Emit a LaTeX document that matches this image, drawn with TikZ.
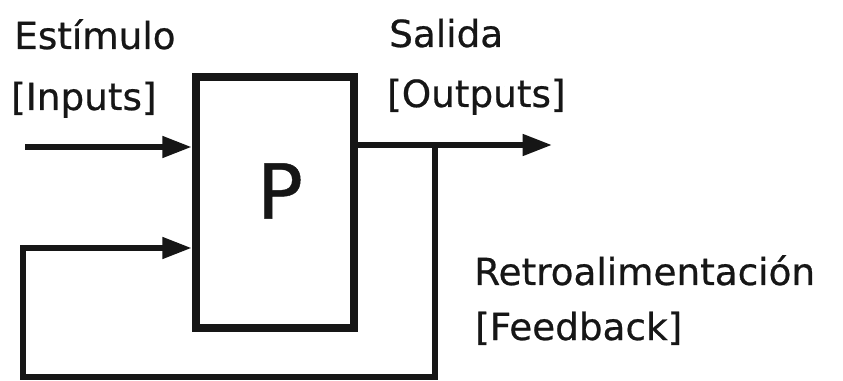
\documentclass[tikz,border=0pt]{standalone}
\usepackage{fontspec}
\setmainfont{DejaVu Sans}
\newfontfamily\lblfont{DejaVu Sans}[FakeBold=0.6]
\usetikzlibrary{arrows.meta}
\definecolor{ink}{HTML}{161616}
\tikzset{
  lbl/.style={anchor=base west, inner sep=0pt, text=ink, font=\lblfont\fontsize{28}{32}\selectfont},
  procbox/.style={draw=ink, line width=6.5pt, minimum width=118.5pt, minimum height=188pt, inner sep=0pt, fill=white},
  flow/.style={draw=ink, line width=4.2pt, line join=miter, -{Triangle[length=22pt, width=15.5pt]}},
  ptext/.style={inner sep=0pt, text=ink, font=\lblfont\fontsize{57}{60}\selectfont}
}
\begin{document}
\begin{tikzpicture}[x=0.75pt, y=-0.75pt]
\useasboundingbox[fill=white] (0,0) rectangle (843,381);
% process box
\node[procbox] (proc) at (275,202.5) {};
\node[ptext] (ptxt) at (280,191) {P};
% labels
\node[lbl] (est) at (14,49) {Estímulo};
\node[lbl] (inp) at (11,110) {[Inputs]};
\node[lbl] (sal) at (389,47) {Salida};
\node[lbl] (outp) at (387,107) {[Outputs]};
\node[lbl] (ret) at (474,285) {Retroalimentación};
\node[lbl] (fdb) at (475,340) {[Feedback]};
% coordinates
\coordinate (in0) at (25,147);
\coordinate (out1) at (552,145);
\coordinate (br) at (435,145);
\coordinate (brd) at (435,377);
\coordinate (fl) at (23,377);
\coordinate (fu) at (23,248);
% connectors
\draw[flow] (in0) -- (proc.west |- in0);
\draw[flow] (proc.east |- out1) -- (out1);
\draw[flow] (br) -- (brd) -- (fl) -- (fu) -- (proc.west |- fu);
\end{tikzpicture}
\end{document}
